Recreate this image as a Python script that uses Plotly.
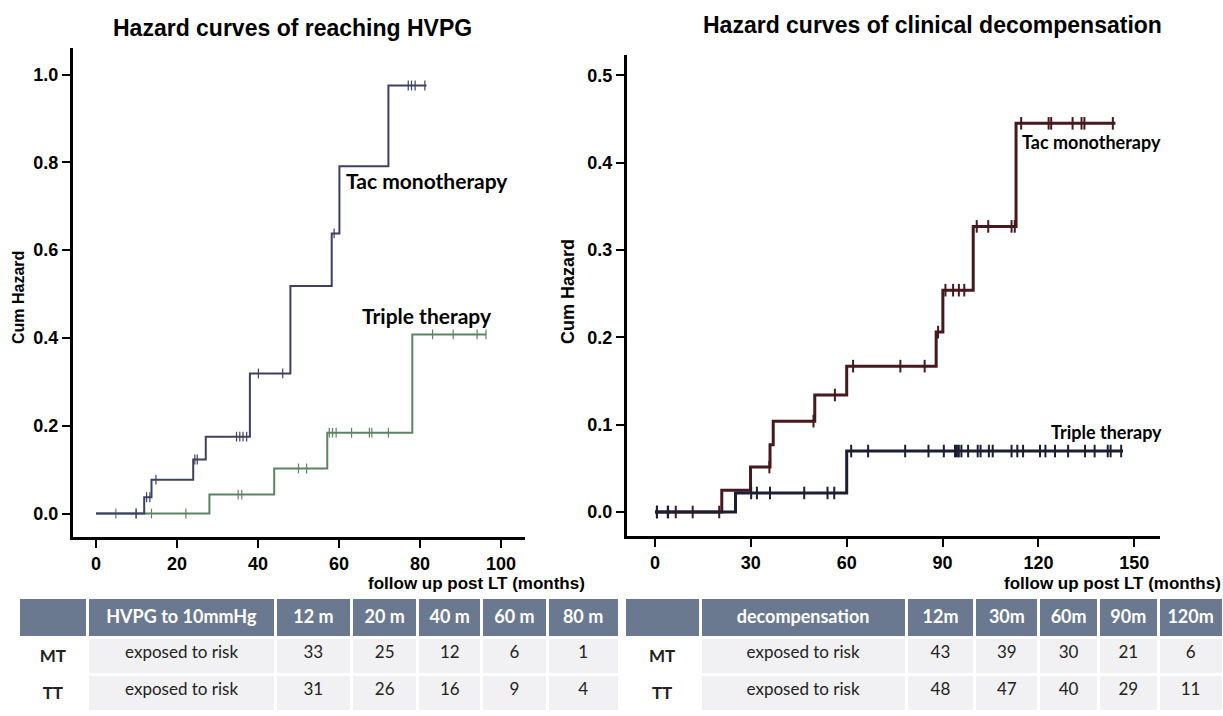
import numpy as np
import plotly.graph_objects as go

W, H = 1223, 716

# ---------------- data ----------------
# Left: hazard of reaching HVPG
hv_tac_t = [0, 11.9, 13.7, 24.0, 27.1, 38.0, 48.0, 58.2, 60.1, 72.2, 81.6]
hv_tac_h = [0, 0.037, 0.077, 0.123, 0.175, 0.319, 0.518, 0.638, 0.791, 0.975, 0.975]
hv_tac_cens = [9.9, 12.5, 13.3, 14.8, 24.4, 25.0, 34.7, 35.5, 36.3, 37.2, 40.1, 46.1,
               58.8, 77.1, 77.9, 78.8, 81.2]

hv_tt_t = [0, 28.0, 44.0, 57.1, 78.1, 96.3]
hv_tt_h = [0, 0.043, 0.1025, 0.184, 0.408, 0.408]
hv_tt_cens = [4.9, 9.9, 13.7, 22.2, 35.1, 36.0, 50.0, 52.0, 57.6, 58.4, 59.3, 63.1,
              67.5, 68.1, 72.2, 83.1, 88.2, 94.1, 96.3]

# Right: hazard of clinical decompensation
dc_tac_t = [0, 20.9, 29.9, 36.0, 37.0, 50.0, 60.0, 88.0, 90.1, 99.6, 113.0, 144.1]
dc_tac_h = [0, 0.025, 0.0515, 0.077, 0.104, 0.134, 0.167, 0.206, 0.254, 0.327, 0.445, 0.445]
dc_tac_cens = [0.6, 4.1, 6.5, 11.8, 20.1, 35.8, 49.6, 56.3, 62.0, 76.8, 84.4, 88.6,
               90.9, 93.3, 95.1, 96.8, 100.7, 104.3, 111.6, 112.6, 114.6, 123.2, 124.0,
               130.7, 133.5, 134.4, 143.3]

dc_tt_t = [0, 25.2, 60.0, 146.5]
dc_tt_h = [0, 0.0218, 0.0698, 0.0698]
dc_tt_cens = [0.6, 4.0, 30.1, 31.9, 36.0, 46.7, 54.0, 56.1, 61.4, 66.7, 78.3, 85.6,
              90.4, 93.9, 94.5, 95.1, 95.9, 98.0, 101.0, 101.9, 104.5, 105.7, 111.6,
              113.4, 115.2, 120.5, 122.2, 125.2, 129.3, 134.6, 137.6, 141.7, 142.6, 145.9]

# Tables
tl_header = ["", "HVPG to 10mmHg", "12 m", "20 m", "40 m", "60 m", "80 m"]
tl_groups = ["MT", "TT"]
tl_measure = "exposed to risk"
tl_mt = [33, 25, 12, 6, 1]
tl_tt = [31, 26, 16, 9, 4]

tr_header = ["", "decompensation", "12m", "30m", "60m", "90m", "120m"]
tr_groups = ["MT", "TT"]
tr_measure = "exposed to risk"
tr_mt = [43, 39, 30, 21, 6]
tr_tt = [48, 47, 40, 29, 11]

# ---------------- helpers ----------------
def fx(p):
    return p / W

def fy(p):
    return 1 - p / H

def step_at(t, h, c):
    t = np.asarray(t); h = np.asarray(h)
    idx = np.searchsorted(t, np.asarray(c), side="right") - 1
    return h[idx]

fig = go.Figure()

def add_curve(t, h, cens, color, width, msize, mwidth, xa, ya):
    fig.add_trace(go.Scatter(x=t, y=h, mode="lines", line=dict(color=color, width=width, shape="hv"),
                             xaxis=xa, yaxis=ya, hoverinfo="skip"))
    fig.add_trace(go.Scatter(x=cens, y=step_at(t, h, cens), mode="markers",
                             marker=dict(symbol="line-ns", size=msize,
                                         line=dict(color=color, width=mwidth)),
                             xaxis=xa, yaxis=ya, hoverinfo="skip"))

C_L_TAC = "#3c4160"
C_L_TT = "#5d8462"
C_R_TAC = "#45191d"
C_R_TT = "#1c1f33"

add_curve(hv_tt_t, hv_tt_h, hv_tt_cens, C_L_TT, 2, 7, 1.2, "x", "y")
add_curve(hv_tac_t, hv_tac_h, hv_tac_cens, C_L_TAC, 2, 7, 1.2, "x", "y")
add_curve(dc_tac_t, dc_tac_h, dc_tac_cens, C_R_TAC, 3, 9, 2, "x2", "y2")
add_curve(dc_tt_t, dc_tt_h, dc_tt_cens, C_R_TT, 3, 9, 2, "x2", "y2")

# ---------------- tables ----------------
HEAD_FILL = "#6b7990"
BODY_FILL = "#f1f1f3"

def add_table(header, groups, measure, mt, tt, dom_x, widths):
    cols = [["<b>%s</b>" % g for g in groups], [measure, measure]]
    for a, b in zip(mt, tt):
        cols.append([a, b])
    fills = [["white", "white"]] + [[BODY_FILL, BODY_FILL]] * (len(cols) - 1)
    fig.add_trace(go.Table(
        domain=dict(x=dom_x, y=[0, fy(597)]),
        columnwidth=widths,
        header=dict(values=["<b>%s</b>" % h for h in header], fill_color=HEAD_FILL,
                    line=dict(color="white", width=3), align="center", height=40,
                    font=dict(family="Lato", size=18, color="white")),
        cells=dict(values=cols, fill_color=fills, line=dict(color="white", width=3),
                   align="center", height=34,
                   font=dict(family="Lato", size=17, color="#222222")),
    ))

add_table(tl_header, tl_groups, tl_measure, tl_mt, tl_tt, [fx(18), fx(619)],
          [68, 183, 74, 65, 62, 64, 70])
add_table(tr_header, tr_groups, tr_measure, tr_mt, tr_tt, [fx(624), 1.0],
          [74, 200, 67, 62, 58, 58, 63])

# ---------------- axes ----------------
tickfont = dict(family="Liberation Sans", size=18, color="black", weight="bold")
common = dict(showline=True, linecolor="black", linewidth=3, ticks="outside", ticklen=8,
              tickwidth=2, tickcolor="black", showgrid=False, zeroline=False,
              tickfont=tickfont, fixedrange=True)

# left: x=0 at 96px, 4.05 px/unit; y=0 at 513.5px, 439 px/unit
fig.update_layout(
    xaxis=dict(domain=[fx(73), fx(525)], range=[(73 - 96) / 4.05, (525 - 96) / 4.05],
               tickvals=[0, 20, 40, 60, 80, 100], anchor="y", **common),
    yaxis=dict(domain=[fy(537), fy(48)], range=[(513.5 - 537) / 439, (513.5 - 48) / 439],
               tickvals=[0, 0.2, 0.4, 0.6, 0.8, 1.0], tickformat=".1f", anchor="x", **common),
    xaxis2=dict(domain=[fx(627), fx(1160)], range=[(627 - 655) / 3.195, (1160 - 655) / 3.195],
                tickvals=[0, 30, 60, 90, 120, 150], anchor="y2", **common),
    yaxis2=dict(domain=[fy(536), fy(55)], range=[(512 - 536) / 873.4, (512 - 55) / 873.4],
                tickvals=[0, 0.1, 0.2, 0.3, 0.4, 0.5], tickformat=".1f", anchor="x2", **common),
)

# ---------------- annotations ----------------
def ann(text, x, y, size, family="Liberation Sans", xanchor="center", angle=0, weight="bold"):
    fig.add_annotation(text=text, x=fx(x), y=fy(y), xref="paper", yref="paper",
                       xanchor=xanchor, yanchor="middle", showarrow=False, textangle=angle,
                       borderpad=0,
                       font=dict(family=family, size=size, color="black", weight=weight))

ann("Hazard curves of reaching HVPG", 292, 28, 23)
ann("Hazard curves of clinical decompensation", 932, 25, 23)
ann("Cum Hazard", 19, 298, 16, angle=-90)
ann("Cum Hazard", 568, 292, 18, angle=-90)
ann("follow up post LT (months)", 586, 583, 17, xanchor="right")
ann("follow up post LT (months)", 1222, 583, 17, xanchor="right")
ann("Tac monotherapy", 345, 180, 21, family="Lato", xanchor="left")
ann("Triple therapy", 361, 316, 21, family="Lato", xanchor="left")
ann("Tac monotherapy", 1021, 142, 18, family="Lato", xanchor="left")
ann("Triple therapy", 1050, 432, 18, family="Lato", xanchor="left")

fig.update_layout(width=W, height=H, margin=dict(l=0, r=0, t=0, b=0),
                  paper_bgcolor="white", plot_bgcolor="white", showlegend=False)

fig.write_html("out.html", config={"displayModeBar": False},
               post_script="document.body.style.margin='0';document.body.style.overflow='hidden';")
